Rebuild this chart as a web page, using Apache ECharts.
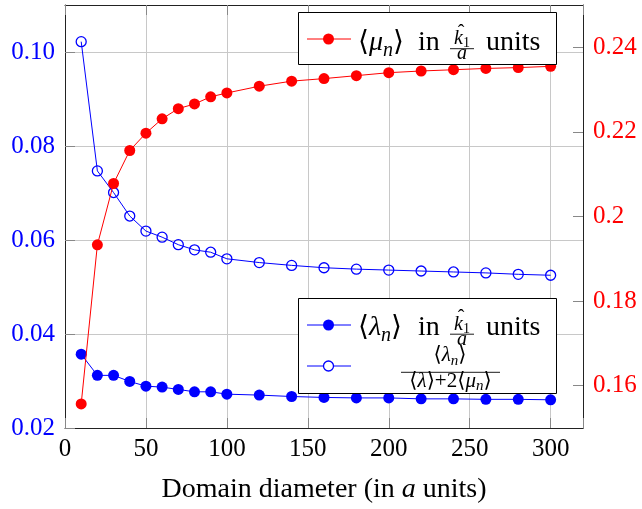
<!DOCTYPE html>
<html>
<head>
<meta charset="utf-8">
<script src="https://cdn.jsdelivr.net/npm/echarts@6/dist/echarts.min.js"></script>
<style>html,body{margin:0;padding:0;background:#fff}#c{width:642px;height:509px}</style>
</head>
<body>
<div id="c"></div>
<script>
const xs = [10,20,30,40,50,60,70,80,90,100,120,140,160,180,200,220,240,260,280,300];
const muVals = [0.1557,0.1933,0.2078,0.2156,0.2197,0.2231,0.2255,0.2266,0.2283,0.2292,0.2308,0.2320,0.2326,0.2333,0.2340,0.2344,0.2347,0.2350,0.2352,0.2355];
const lambdaVals = [0.0357,0.0312,0.0312,0.0299,0.0289,0.0287,0.0282,0.0277,0.0277,0.0272,0.0270,0.0267,0.0265,0.0264,0.0264,0.0262,0.0262,0.0261,0.0261,0.0260];
const ratioVals = [0.1022,0.0747,0.0701,0.0651,0.0619,0.0606,0.0590,0.0579,0.0574,0.0560,0.0552,0.0546,0.0541,0.0538,0.0536,0.0534,0.0532,0.0530,0.0527,0.0525];
const leftTicks = [0.02,0.04,0.06,0.08,0.10];
const rightTicks = [0.16,0.18,0.2,0.22,0.24];
const xTicks = [0,50,100,150,200,250,300];

const FF = "'Liberation Serif','DejaVu Serif',serif";
const RED = '#ff0000', BLUE = '#0000ff';
const mctx = document.createElement('canvas').getContext('2d');
function fontOf(p){ return (p.it ? 'italic ' : '') + p.s + 'px ' + FF; }
function measure(p){ mctx.font = fontOf(p); return mctx.measureText(p.t).width; }
// lay out text pieces along a baseline
function run(pieces, x, base, align){
  const ws = pieces.map(measure);
  let tot = ws.reduce((a,b)=>a+b,0);
  let cx = align === 'center' ? x - tot/2 : x;
  const out = [];
  pieces.forEach((p,i)=>{
    const b = base + (p.dy||0);
    out.push({type:'text', z:100, style:{text:p.t, x:cx + (p.dx||0), y:b - 0.3375*p.s, font:fontOf(p), fill:'#000', verticalAlign:'middle', align:'left'}});
    cx += ws[i];
  });
  return out;
}
function kFrac(cx, base){
  const els = [];
  els.push(...run([{t:'k',s:20,it:true},{t:'1',s:14,dy:3}], cx, base-6.5, 'center'));
  els.push(...run([{t:'ˆ',s:20}], cx-1, base-12, 'center'));
  els.push({type:'line', z:100, shape:{x1:cx-12, y1:base-3.3, x2:cx+12, y2:base-3.3}, style:{stroke:'#000', lineWidth:0.9}});
  els.push(...run([{t:'a',s:20,it:true}], cx, base+8.5, 'center'));
  return els;
}
function entryText(greek, base){
  const els = [];
  els.push(...run([{t:'⟨',s:28},{t:greek,s:28,it:true},{t:'n',s:20,it:true,dy:5},{t:'⟩',s:28}], 358, base, 'left'));
  els.push(...run([{t:'in',s:28}], 418, base, 'left'));
  els.push(...kFrac(462, base));
  els.push(...run([{t:'units',s:28}], 486, base, 'left'));
  return els;
}
function icon(y, color, filled){
  return [
    {type:'line', z:100, shape:{x1:307,y1:y,x2:351,y2:y}, style:{stroke:color, lineWidth:1}},
    {type:'circle', z:101, shape:{cx:328.5, cy:y, r:filled?5.5:5}, style: filled ? {fill:color} : {fill:'#fff', stroke:color, lineWidth:1.3}}
  ];
}
const g = [];
g.push({type:'rect', z:99, shape:{x:298.5,y:12.5,width:258,height:52}, style:{fill:'#fff', stroke:'#000', lineWidth:1}});
g.push(...icon(39, RED, true));
g.push(...entryText('μ', 52));
g.push({type:'rect', z:99, shape:{x:298.5,y:298.5,width:258,height:95}, style:{fill:'#fff', stroke:'#000', lineWidth:1}});
g.push(...icon(325, BLUE, true));
g.push(...entryText('λ', 337.5));
g.push(...icon(366, BLUE, false));
g.push(...run([{t:'⟨',s:21},{t:'λ',s:21,it:true},{t:'n',s:15,it:true,dy:3},{t:'⟩',s:21}], 450, 363, 'center'));
g.push({type:'line', z:100, shape:{x1:401,y1:372.3,x2:500,y2:372.3}, style:{stroke:'#000', lineWidth:0.9}});
g.push(...run([{t:'⟨',s:21},{t:'λ',s:21,it:true},{t:'⟩',s:21},{t:'+',s:21},{t:'2',s:21},{t:'⟨',s:21},{t:'μ',s:21,it:true},{t:'n',s:15,it:true,dy:3},{t:'⟩',s:21}], 450.5, 388.5, 'center'));

const chart = echarts.init(document.getElementById('c'), null, {renderer:'canvas'});
const lblFont = {fontFamily:FF, fontSize:25};
const spine = {show:true, onZero:false, lineStyle:{color:'#222', width:1}};
const tick = {show:true, inside:true, length:10, lineStyle:{color:'#888'}};
chart.setOption({
  animation:false,
  backgroundColor:'#fff',
  grid:{left:65, right:59, top:5, bottom:75, containLabel:false},
  xAxis:[
    {type:'value', position:'bottom', min:0, max:320, interval:50,
     axisLine:spine, axisTick:tick,
     axisLabel:Object.assign({color:'#000', margin:9, customValues:xTicks}, lblFont),
     splitLine:{show:true, lineStyle:{color:'#c8c8c8', width:1}},
     name:'Domain diameter (in {i|a} units)', nameLocation:'middle', nameGap:48,
     nameTextStyle:{fontFamily:FF, fontSize:28, color:'#000', rich:{i:{fontFamily:FF, fontSize:28, fontStyle:'italic', color:'#000'}}}},
    {type:'value', position:'top', min:0, max:320, interval:50,
     axisLine:spine, axisTick:tick, axisLabel:{show:false}, splitLine:{show:false}}
  ],
  yAxis:[
    {type:'value', position:'left', min:0.02, max:0.11, interval:0.02,
     axisLine:spine, axisTick:Object.assign({customValues:leftTicks}, tick),
     axisLabel:Object.assign({color:BLUE, margin:10, customValues:leftTicks, formatter:v=>v.toFixed(2)}, lblFont),
     splitLine:{show:true, lineStyle:{color:'#c8c8c8', width:1}}},
    {type:'value', position:'right', min:0.15, max:0.25, interval:0.01,
     axisLine:spine, axisTick:Object.assign({customValues:rightTicks}, tick),
     axisLabel:Object.assign({color:RED, margin:10, customValues:rightTicks, formatter:v=>String(+v.toFixed(2))}, lblFont),
     splitLine:{show:false}}
  ],
  series:[
    {type:'line', name:'lambda', yAxisIndex:0, data:xs.map((x,i)=>[x, lambdaVals[i]]),
     symbol:'circle', symbolSize:11, itemStyle:{color:BLUE}, lineStyle:{color:BLUE, width:1}, z:2},
    {type:'line', name:'ratio', yAxisIndex:0, data:xs.map((x,i)=>[x, ratioVals[i]]),
     symbol:'circle', symbolSize:10, itemStyle:{color:'rgba(255,255,255,0)', borderColor:BLUE, borderWidth:1.3}, lineStyle:{color:BLUE, width:1}, z:3},
    {type:'line', name:'mu', yAxisIndex:1, data:xs.map((x,i)=>[x, muVals[i]]),
     symbol:'circle', symbolSize:11, itemStyle:{color:RED}, lineStyle:{color:RED, width:1}, z:4}
  ],
  graphic:g
});
</script>
</body>
</html>
